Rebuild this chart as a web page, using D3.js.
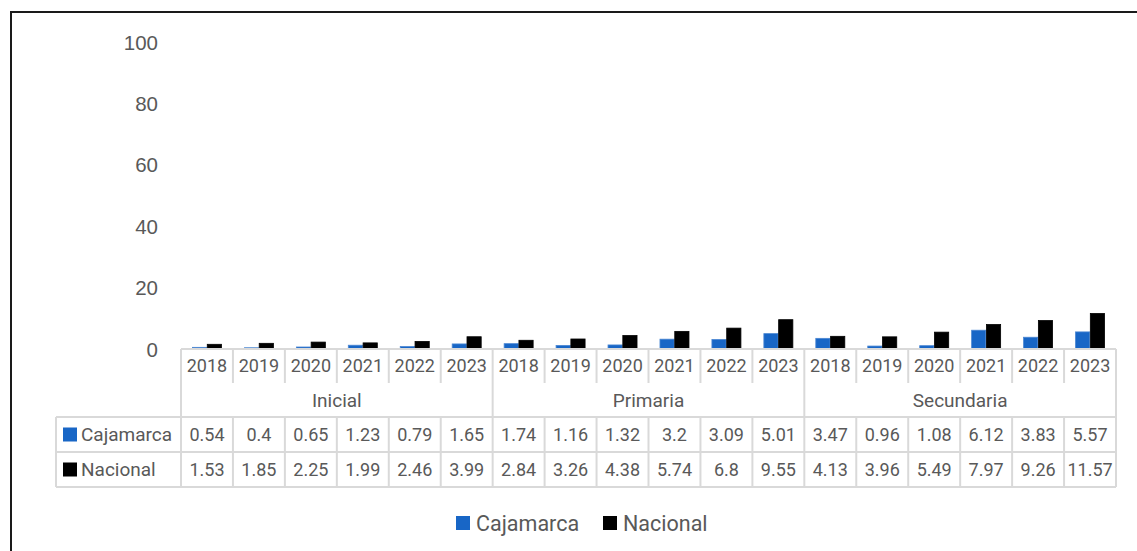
<!DOCTYPE html>
<html>
<head>
<meta charset="utf-8">
<script src="https://cdn.jsdelivr.net/npm/d3@7"></script>
<style>
  html, body { margin: 0; padding: 0; background: #fff; }
  svg { display: block; }
</style>
</head>
<body>
<svg id="chart" width="1137" height="551"></svg>
<script>
// ---- Data ----
const groups = ["Inicial", "Primaria", "Secundaria"];
const years = ["2018", "2019", "2020", "2021", "2022", "2023"];
const seriesNames = ["Cajamarca", "Nacional"];
const cajamarca = [0.54, 0.4, 0.65, 1.23, 0.79, 1.65, 1.74, 1.16, 1.32, 3.2, 3.09, 5.01, 3.47, 0.96, 1.08, 6.12, 3.83, 5.57];
const nacional  = [1.53, 1.85, 2.25, 1.99, 2.46, 3.99, 2.84, 3.26, 4.38, 5.74, 6.8, 9.55, 4.13, 3.96, 5.49, 7.97, 9.26, 11.57];
const yTicks = [0, 20, 40, 60, 80, 100];

const colors = { Cajamarca: "#1866c6", Nacional: "#000000" };
const textColor = "#595959";
const gridColor = "#d9d9d9";
const tableFont = "Roboto, 'Open Sans', sans-serif";

const svg = d3.select("#chart");

// Keys for categories
const cats = [];
groups.forEach(g => years.forEach(y => cats.push(g + "|" + y)));
const seriesValues = { Cajamarca: cajamarca, Nacional: nacional };

// Layout
const plotLeft = 181, plotRight = 1116, plotTop = 42, plotBottom = 349;
const rowYear = [349, 383], rowGroup = [383, 417], rowS1 = [417, 452], rowS2 = [452, 487];
const tableLeft = 56;

const x = d3.scaleBand().domain(cats).range([plotLeft, plotRight]).padding(0);
const sub = d3.scaleBand().domain(seriesNames).range([-14.5, 14.5]).paddingInner(0.04);
const y = d3.scaleLinear().domain([0, 100]).range([plotBottom, plotTop]);

// Outer frame (top and left lines)
svg.append("path")
  .attr("d", `M11,551 L11,12 L1137,12`)
  .attr("fill", "none").attr("stroke", "#1a1a1a").attr("stroke-width", 2);

// Y axis
const yAxis = d3.axisLeft(y).tickValues(yTicks).tickSize(0).tickPadding(0);
const gy = svg.append("g").attr("transform", `translate(158,0)`).call(yAxis);
gy.select(".domain").remove();
gy.selectAll("text")
  .attr("fill", textColor)
  .style("font-family", "'Liberation Sans', Arial, sans-serif")
  .style("font-size", "20.5px")
  .attr("dy", "0.35em");

// Bars
const barData = [];
cats.forEach((c, i) => seriesNames.forEach(s => barData.push({ cat: c, s, v: seriesValues[s][i] })));
svg.append("g").selectAll("rect").data(barData).join("rect")
  .attr("x", d => x(d.cat) + x.bandwidth() / 2 + sub(d.s))
  .attr("width", sub.bandwidth())
  .attr("y", d => y(d.v))
  .attr("height", d => y(0) - y(d.v))
  .attr("fill", d => colors[d.s])
  .attr("stroke", d => d.s === "Cajamarca" ? "#4a86d2" : "#000")
  .attr("stroke-width", 0.8);

// Table grid
const grid = svg.append("g").attr("stroke", gridColor).attr("stroke-width", 2).attr("fill", "none");
const line = (x1, y1, x2, y2) => grid.append("line").attr("x1", x1).attr("y1", y1).attr("x2", x2).attr("y2", y2);
line(plotLeft, rowYear[0], plotRight, rowYear[0]);
line(tableLeft, rowS1[0], plotRight, rowS1[0]);
line(tableLeft, rowS2[0], plotRight, rowS2[0]);
line(tableLeft, rowS2[1], plotRight, rowS2[1]);
line(tableLeft, rowS1[0], tableLeft, rowS2[1]);
// Category boundaries
const boundaries = cats.map(c => x(c)).concat([plotRight]);
boundaries.forEach((bx, i) => {
  const isGroup = i % years.length === 0;
  if (isGroup) {
    line(bx, rowYear[0], bx, rowS2[1]);
  } else {
    line(bx, rowYear[0], bx, rowYear[1]);
    line(bx, rowS1[0], bx, rowS2[1]);
  }
});

// Table texts
const numSize = "18px", wordSize = "19px";
const tg = svg.append("g").attr("fill", textColor)
  .style("font-family", tableFont).attr("text-anchor", "middle");
cats.forEach((c, i) => {
  const cx = x(c) + x.bandwidth() / 2;
  tg.append("text").attr("x", cx).attr("y", (rowYear[0] + rowYear[1]) / 2).attr("dy", "0.36em")
    .style("font-size", numSize).text(c.split("|")[1]);
  tg.append("text").attr("x", cx).attr("y", (rowS1[0] + rowS1[1]) / 2).attr("dy", "0.36em")
    .style("font-size", numSize).text(cajamarca[i]);
  tg.append("text").attr("x", cx).attr("y", (rowS2[0] + rowS2[1]) / 2).attr("dy", "0.36em")
    .style("font-size", numSize).text(nacional[i]);
});
groups.forEach((g, gi) => {
  const x0 = x(g + "|" + years[0]);
  const x1 = x(g + "|" + years[years.length - 1]) + x.bandwidth();
  tg.append("text").attr("x", (x0 + x1) / 2).attr("y", (rowGroup[0] + rowGroup[1]) / 2).attr("dy", "0.36em")
    .style("font-size", wordSize).text(g);
});
// Row legend keys
[rowS1, rowS2].forEach((r, i) => {
  const s = seriesNames[i];
  const cy = (r[0] + r[1]) / 2;
  svg.append("rect").attr("x", 63).attr("y", cy - 7).attr("width", 14).attr("height", 14)
    .attr("fill", colors[s]);
  svg.append("text").attr("x", 81).attr("y", cy).attr("dy", "0.36em")
    .attr("fill", textColor).style("font-family", tableFont).style("font-size", wordSize).text(s);
});

// Bottom legend
const legendItems = [{ s: "Cajamarca", x: 456 }, { s: "Nacional", x: 603 }];
const lg = svg.append("g");
legendItems.forEach(d => {
  lg.append("rect").attr("x", d.x).attr("y", 516).attr("width", 14).attr("height", 14).attr("fill", colors[d.s]);
  lg.append("text").attr("x", d.x + 20).attr("y", 523).attr("dy", "0.36em")
    .attr("fill", textColor).style("font-family", tableFont).style("font-size", "21.5px").text(d.s);
});
</script>
</body>
</html>
